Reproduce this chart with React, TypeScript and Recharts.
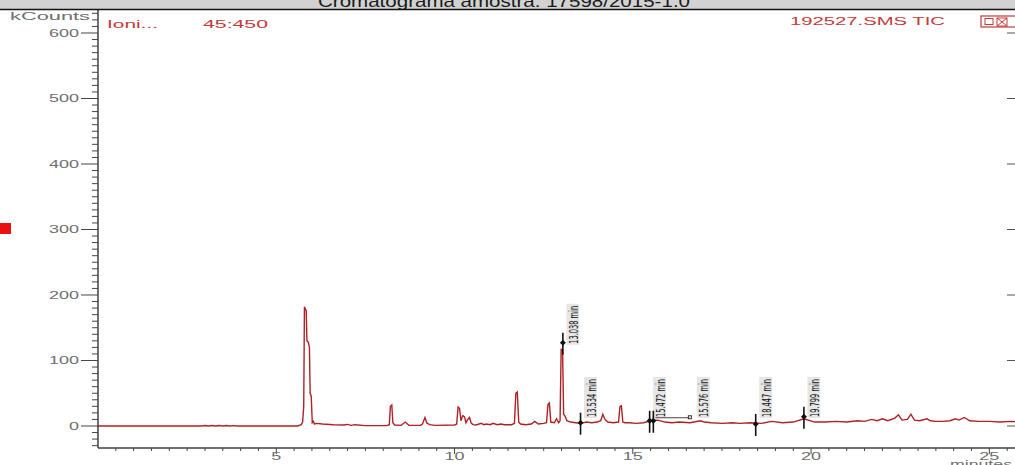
import React from "react";
import { ComposedChart, Line, Scatter, XAxis, YAxis } from "recharts";

// TIC trace, retention time (min) vs kCounts
const ticTimes = [
  0, 2.9, 3.0, 3.1, 3.2, 3.3, 3.4, 3.5, 3.6, 3.7, 3.8, 3.9, 4.0,
  5.6, 5.7, 5.74, 5.77, 5.79, 5.82, 5.84, 5.86, 5.9, 5.93, 5.95, 5.98,
  6.01, 6.04, 6.07, 6.12, 6.3, 6.6, 6.9, 7.0, 7.1, 7.2, 7.5,
  8.1, 8.17, 8.2, 8.24, 8.27, 8.32, 8.5, 8.62, 8.72,
  9.05, 9.1, 9.17, 9.22, 9.3, 9.45,
  10.0, 10.06, 10.1, 10.14, 10.18, 10.23, 10.28, 10.32, 10.37, 10.42, 10.47, 10.52,
  10.6, 10.75, 10.82, 10.9, 11.0, 11.08, 11.2, 11.3, 11.4,
  11.6, 11.68, 11.72, 11.76, 11.8, 11.85, 12.0, 12.15, 12.25, 12.35,
  12.5, 12.58, 12.62, 12.66, 12.7, 12.8, 12.86, 12.92,
  12.96, 12.99, 13.03, 13.06, 13.1, 13.15, 13.25, 13.4, 13.55, 13.7, 13.85,
  14.0, 14.1, 14.16, 14.22, 14.3, 14.45, 14.6, 14.64, 14.68, 14.72, 14.78, 14.9,
  15.1, 15.3, 15.5, 15.7, 15.9, 16.1, 16.3, 16.6, 16.9, 17.0, 17.2, 17.5, 17.8,
  18.0, 18.3, 18.6, 18.9, 19.2, 19.5, 19.8, 20.1, 20.4, 20.7, 21.0,
  21.3, 21.5, 21.7, 21.85, 22.0, 22.15, 22.35, 22.45, 22.55, 22.7, 22.8, 22.9,
  23.05, 23.25, 23.35, 23.5, 23.7, 23.9, 24.05, 24.15, 24.3, 24.45, 24.7,
  25.0, 25.3, 25.6, 26.0,
];
const ticCounts = [
  0, 0, 0.8, 0, 0.8, 0, 0.8, 0, 0.8, 0, 0.6, 0, 0,
  0, 2, 6, 30, 182, 178, 176, 130, 128, 120, 50, 46,
  5, 7, 3, 4, 3, 2, 1.5, 2.5, 1, 2, 0.5,
  0.5, 2, 30, 32, 5, 1.5, 1, 6, 1,
  1, 3, 13, 5, 2, 1,
  1.5, 3, 29, 27, 8, 16, 14, 5, 10, 13, 4, 2,
  1.5, 4, 2, 3, 2, 4, 2, 3, 2,
  2, 4, 50, 52, 6, 3, 2, 3, 7, 3,
  4, 5, 33, 35, 6, 5, 11, 5,
  8, 117, 116, 18, 15, 8, 6, 5, 4, 6, 5,
  6, 8, 18, 10, 6, 5, 6, 30, 31, 6, 5, 5,
  4, 5, 8, 9, 6, 5, 6, 5, 8, 6, 5, 4, 5,
  4, 5, 4, 7, 5, 6, 11, 6, 6, 7, 6,
  8, 7, 10, 8, 11, 8, 12, 17, 9, 10, 18, 9,
  8, 11, 8, 7, 7, 8, 11, 9, 13, 8, 7,
  7, 6, 7, 6,
];

// integration markers
const markTimes = [13.038, 13.534, 15.472, 15.576, 18.447, 19.799];
const markCounts = [127, 5, 8, 8, 3, 14];

const xMajor = [5, 10, 15, 20, 25];
const yMajor = [0, 100, 200, 300, 400, 500, 600];

const TITLE = "Cromatograma amostra: 17598/2015-1.0";

const data = ticTimes.map((t, i) => ({ t, v: ticCounts[i] }));
const marks = markTimes.map((t, i) => ({
  t,
  v: markCounts[i],
  label: `${t.toFixed(3)} min`,
  crowded: i > 0 && t - markTimes[i - 1] < 0.3,
}));

const xTicks = Array.from({ length: 52 }, (_, i) => 0.5 + i * 0.5);
const yTicks = Array.from({ length: 67 }, (_, i) => -30 + i * 10);

const GRAY = "#6e6e6e";
const RED = "#c43a3a";

function XTick({ x, y, payload }: any) {
  const major = xMajor.includes(payload.value);
  const s = String(payload.value);
  return (
    <g>
      <line x1={x} x2={x} y1={y} y2={y + (major ? 6 : 3)} stroke="#444" />
      {major && (
        <text x={x} y={y + 12} textAnchor="middle" fontSize={10} fill={GRAY}
          textLength={s.length * 10} lengthAdjust="spacingAndGlyphs">
          {s}
        </text>
      )}
    </g>
  );
}

function YTick({ x, y, payload }: any) {
  const major = yMajor.includes(payload.value);
  const s = String(payload.value);
  return (
    <g>
      <line x1={x - (major ? 17 : 6)} x2={x} y1={y} y2={y} stroke="#444" />
      {major && (
        <text x={x - 19} y={y + 4} textAnchor="end" fontSize={10} fill={GRAY}
          textLength={s.length * 10} lengthAdjust="spacingAndGlyphs">
          {s}
        </text>
      )}
    </g>
  );
}

function Marker({ cx, cy, payload }: any) {
  const lx = payload.crowded ? cx + 50 : cx + 10;
  const bottom = Math.min(cy + 2, 418);
  return (
    <g>
      {payload.crowded && (
        <>
          <line x1={cx + 2} x2={cx + 36} y1={cy - 3} y2={cy - 3} stroke="#444" />
          <rect x={cx + 35} y={cy - 5} width={3} height={3} fill="none" stroke="#333" />
        </>
      )}
      <rect x={lx - 6.5} y={bottom - 41} width={13} height={41} fill="#e6e6e6" />
      <text transform={`translate(${lx + 5},${bottom - 1}) rotate(-90)`} fontSize={13}
        fill="#111" fontFamily="'Liberation Sans Narrow', 'DejaVu Sans Condensed', sans-serif"
        textLength={38} lengthAdjust="spacingAndGlyphs">
        {payload.label}
      </text>
      <line x1={cx} x2={cx} y1={cy - 10} y2={cy + 12} stroke="#111" strokeWidth={1.6} />
      <path d={`M${cx - 3},${cy} L${cx},${cy - 3} L${cx + 3},${cy} L${cx},${cy + 3}Z`} fill="#111" />
    </g>
  );
}

export default function App() {
  return (
    <div style={{ position: "absolute", left: 0, top: 0, width: 1015, height: 465,
      overflow: "hidden", background: "#fff", fontFamily: "'Liberation Sans', Arial, sans-serif" }}>
      <ComposedChart width={1025} height={465} data={data}
        margin={{ top: 10, right: 0, bottom: 0, left: 0 }}>
        <XAxis dataKey="t" type="number" domain={[0, 26]} allowDataOverflow ticks={xTicks}
          interval={0} height={17} tickSize={0} tickMargin={0} tickLine={false}
          tick={<XTick />} axisLine={{ stroke: "#404040", strokeWidth: 1.5 }} />
        <YAxis type="number" domain={[-33.6, 635.1]} allowDataOverflow ticks={yTicks}
          interval={0} width={98} tickSize={0} tickMargin={0} tickLine={false}
          tick={<YTick />} axisLine={{ stroke: "#404040", strokeWidth: 1.5 }} />
        <Line dataKey="v" type="linear" stroke="#ae2226" strokeWidth={1.4} dot={false}
          isAnimationActive={false} />
        <Scatter data={marks} dataKey="v" shape={<Marker />} isAnimationActive={false} />
      </ComposedChart>

      <svg width={1015} height={465} style={{ position: "absolute", left: 0, top: 0, pointerEvents: "none" }}>
        <rect x={0} y={0} width={1015} height={9} fill="#d2d2d2" />
        <text x={504} y={7} textAnchor="middle" fontSize={17} fill="#1a1a1a"
          textLength={372} lengthAdjust="spacingAndGlyphs">{TITLE}</text>
        <line x1={0} x2={1015} y1={9.5} y2={9.5} stroke="#111" strokeWidth={1.5} />

        <text x={10} y={20} fontSize={10} fill={GRAY} textLength={80} lengthAdjust="spacingAndGlyphs">kCounts</text>
        <text x={107} y={28} fontSize={11} fill={RED} textLength={51} lengthAdjust="spacingAndGlyphs">Ioni...</text>
        <text x={203} y={28} fontSize={11} fill={RED} textLength={65} lengthAdjust="spacingAndGlyphs">45:450</text>
        <text x={790} y={25} fontSize={11} fill={RED} textLength={155} lengthAdjust="spacingAndGlyphs">192527.SMS TIC</text>
        <rect x={981} y={16} width={40} height={11} fill="none" stroke={RED} strokeWidth={1.2} />
        <rect x={985} y={18.5} width={8} height={6} fill="none" stroke={RED} />
        <rect x={997} y={18} width={10} height={8} fill="none" stroke={RED} />
        <path d="M997,18 L1007,26 M1007,18 L997,26" stroke={RED} />

        {yMajor.map((v) => (
          <line key={v} x1={1007} x2={1015} y1={426 - v * 0.655} y2={426 - v * 0.655} stroke="#555" />
        ))}

        <text x={981} y={468} textAnchor="middle" fontSize={11} fill={GRAY}
          textLength={62} lengthAdjust="spacingAndGlyphs">minutes</text>
        <rect x={0} y={223} width={11} height={11} fill="#e81010" />
      </svg>
    </div>
  );
}
